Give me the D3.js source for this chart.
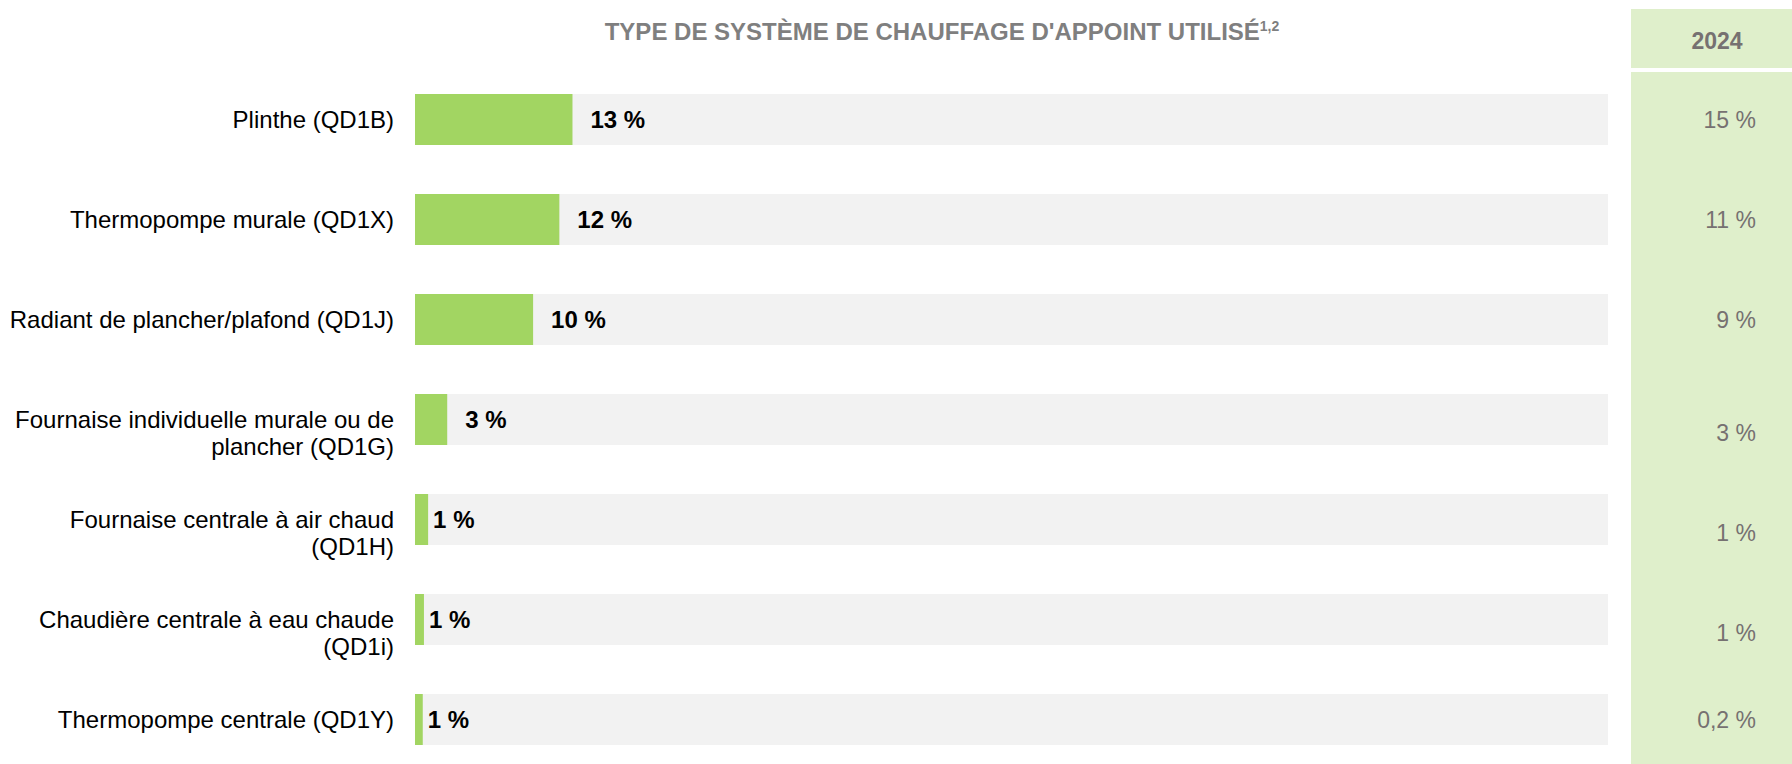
<!DOCTYPE html>
<html lang="fr">
<head>
<meta charset="utf-8">
<script src="https://cdn.jsdelivr.net/npm/d3@7"></script>
<style>
  body { margin: 0; background: #fff; }
  svg { display: block; font-family: Arial, "Liberation Sans", sans-serif; }
</style>
</head>
<body>
<svg id="chart" width="1792" height="764"></svg>
<script>
// données
const categories = [
  "Plinthe (QD1B)",
  "Thermopompe murale (QD1X)",
  "Radiant de plancher/plafond (QD1J)",
  "Fournaise individuelle murale ou de plancher (QD1G)",
  "Fournaise centrale à air chaud (QD1H)",
  "Chaudière centrale à eau chaude (QD1i)",
  "Thermopompe centrale (QD1Y)"
];
const values2025 = [13.2, 12.1, 9.9, 2.7, 1.1, 0.75, 0.65];
const values2024 = [15, 11, 9, 3, 1, 1, 0.2];
const previousYear = "2024";
const titleText = "TYPE DE SYSTÈME DE CHAUFFAGE D'APPOINT UTILISÉ";
const titleNote = "1,2";

const W = 1792, H = 764;
const svg = d3.select("#chart");

const x = d3.scaleLinear().domain([0, 100]).range([415, 1608]);
const y = d3.scaleBand()
  .domain(categories)
  .range([69.5, 769.5])
  .paddingInner(0.49)
  .paddingOuter(0.245);

const pct = (v) => (v < 1 ? d3.format(".1f")(v).replace(".", ",") : d3.format(".0f")(v)) + "\u00a0%";

// titre
const title = svg.append("text")
  .attr("x", 942)
  .attr("y", 40)
  .attr("text-anchor", "middle")
  .style("font-size", "24px")
  .style("font-weight", "bold")
  .style("fill", "#7f7f7f")
  .text(titleText);
title.append("tspan")
  .attr("dy", -9)
  .style("font-size", "14px")
  .text(titleNote);

// colonne de droite (année précédente)
const colX = 1631;
svg.append("rect")
  .attr("x", colX).attr("y", 9)
  .attr("width", W - colX).attr("height", 59)
  .attr("fill", "#dfefcb");
svg.append("rect")
  .attr("x", colX).attr("y", 72)
  .attr("width", W - colX).attr("height", H - 72)
  .attr("fill", "#dfefcb");
svg.append("text")
  .attr("x", 1717).attr("y", 49)
  .attr("text-anchor", "middle")
  .style("font-size", "23px")
  .style("font-weight", "bold")
  .style("fill", "#767171")
  .text(previousYear);

// pistes grises
const rows = svg.append("g");
rows.selectAll("rect.track")
  .data(categories)
  .join("rect")
  .attr("class", "track")
  .attr("x", x(0))
  .attr("y", (d) => y(d))
  .attr("width", x(100) - x(0))
  .attr("height", y.bandwidth())
  .attr("fill", "#f2f2f2");

// barres
rows.selectAll("rect.bar")
  .data(values2025)
  .join("rect")
  .attr("class", "bar")
  .attr("x", x(0))
  .attr("y", (d, i) => y(categories[i]))
  .attr("width", (d) => x(d) - x(0))
  .attr("height", y.bandwidth())
  .attr("fill", "#a2d562");

// étiquettes de valeur
rows.selectAll("text.val")
  .data(values2025)
  .join("text")
  .attr("class", "val")
  .attr("x", (d) => x(d) + (d >= 2 ? 18 : 5))
  .attr("y", (d, i) => y(categories[i]) + y.bandwidth() / 2)
  .attr("dy", "0.35em")
  .style("font-size", "24px")
  .style("font-weight", "bold")
  .style("fill", "#000")
  .text((d) => Math.round(d) + "\u00a0%");

// axe des catégories
const axis = svg.append("g")
  .attr("transform", `translate(${x(0)},0)`)
  .call(d3.axisLeft(y).tickSize(0).tickPadding(21));
axis.select(".domain").remove();
axis.selectAll("text")
  .style("font-size", "24px")
  .style("font-family", "Arial, 'Liberation Sans', sans-serif")
  .style("fill", "#000")
  .attr("dy", "0.35em");

const lineH = 27;
const lineCount = {};
axis.selectAll(".tick text").each(function (d) {
  const t = d3.select(this);
  const words = d.split(" ");
  t.text(null);
  let line = [];
  let tspan = t.append("tspan").attr("x", -21).attr("dy", "0.35em");
  let n = 1;
  for (const w of words) {
    line.push(w);
    tspan.text(line.join(" "));
    if (tspan.node().getComputedTextLength() > 390 && line.length > 1) {
      line.pop();
      tspan.text(line.join(" "));
      line = [w];
      tspan = t.append("tspan").attr("x", -21).attr("dy", lineH).text(w);
      n++;
    }
  }
  lineCount[d] = n;
});

// valeurs 2024
svg.selectAll("text.prev")
  .data(values2024)
  .join("text")
  .attr("class", "prev")
  .attr("x", 1756)
  .attr("y", (d, i) => y(categories[i]) + y.bandwidth() / 2 + (lineCount[categories[i]] - 1) * lineH / 2)
  .attr("dy", "0.35em")
  .attr("text-anchor", "end")
  .style("font-size", "23px")
  .style("fill", "#767171")
  .text((d) => pct(d));
</script>
</body>
</html>
